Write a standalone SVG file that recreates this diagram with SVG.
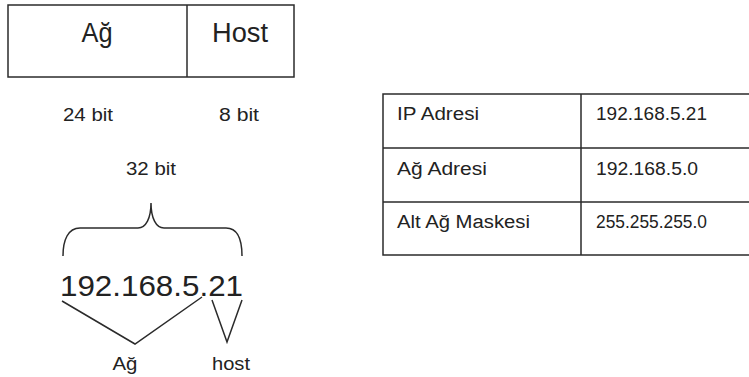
<svg xmlns="http://www.w3.org/2000/svg" width="749" height="377" viewBox="0 0 749 377">
<style>
.ln{fill:none;stroke:#2b2b2b;stroke-width:1.5}
.t{font-family:"Liberation Sans",Arial,sans-serif;fill:#222}
</style>
<rect width="749" height="377" fill="#fff"/>
<g id="bitbox">
<rect class="ln" x="8" y="5" width="286" height="72"/>
<line class="ln" x1="187" y1="5" x2="187" y2="77"/>
<text class="t" x="97" y="42" font-size="27" text-anchor="middle" textLength="31" lengthAdjust="spacingAndGlyphs">Ağ</text>
<text class="t" x="240" y="42" font-size="27" text-anchor="middle" textLength="56" lengthAdjust="spacingAndGlyphs">Host</text>
</g>
<g id="bits">
<text class="t" x="88" y="121" font-size="18" text-anchor="middle" textLength="50" lengthAdjust="spacingAndGlyphs">24 bit</text>
<text class="t" x="239" y="121" font-size="18" text-anchor="middle" textLength="40" lengthAdjust="spacingAndGlyphs">8 bit</text>
<text class="t" x="151" y="175" font-size="18" text-anchor="middle" textLength="50" lengthAdjust="spacingAndGlyphs">32 bit</text>
</g>
<g id="ip">
<text class="t" x="60" y="296" font-size="30" textLength="183" lengthAdjust="spacingAndGlyphs">192.168.5.21</text>
</g>
<g id="labels">
<text class="t" x="125" y="370" font-size="18" text-anchor="middle" textLength="25" lengthAdjust="spacingAndGlyphs">Ağ</text>
<text class="t" x="231" y="370" font-size="18" text-anchor="middle" textLength="38" lengthAdjust="spacingAndGlyphs">host</text>
</g>
<g id="connectors">
<path class="ln" d="M63,256 C63,240 68,228 80,228 L138,228 C146,228 151,218 151,203 C151,218 156,228 164,228 L226,228 C238,228 242,240 242,256"/>
<polyline class="ln" points="62,301 135,344 202,297"/>
<polyline class="ln" points="212,300 227,342 242,300"/>
</g>
<g id="table">
<path class="ln" d="M752,94 H383 V255 H752 M383,148 H752 M383,202 H752 M581,94 V255"/>
<text class="t" x="397" y="120" font-size="18" textLength="82" lengthAdjust="spacingAndGlyphs">IP Adresi</text>
<text class="t" x="596" y="120" font-size="18" textLength="111" lengthAdjust="spacingAndGlyphs">192.168.5.21</text>
<text class="t" x="397" y="175" font-size="18" textLength="90" lengthAdjust="spacingAndGlyphs">Ağ Adresi</text>
<text class="t" x="596" y="175" font-size="18" textLength="102" lengthAdjust="spacingAndGlyphs">192.168.5.0</text>
<text class="t" x="397" y="228" font-size="18" textLength="133" lengthAdjust="spacingAndGlyphs">Alt Ağ Maskesi</text>
<text class="t" x="596" y="228" font-size="18" textLength="111" lengthAdjust="spacingAndGlyphs">255.255.255.0</text>
</g>
</svg>
